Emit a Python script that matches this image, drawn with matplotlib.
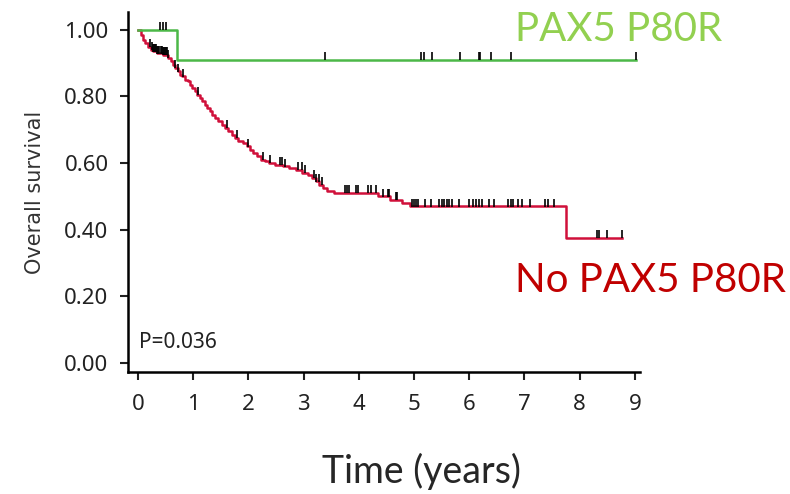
import matplotlib.pyplot as plt
import numpy as np

# Kaplan-Meier style overall survival, two groups

# green group (PAX5 P80R): step times / survival after step
mut_t = [0, 0.70]
mut_s = [1.0, 0.91]
mut_end = 9.02
mut_cens = [0.40, 0.45, 0.51, 3.39, 5.13, 5.18, 5.33, 5.83, 6.18, 6.20, 6.39, 6.76, 9.02]

# red group (No PAX5 P80R)
wt_t = [0, 0.05, 0.09, 0.13, 0.18, 0.23, 0.27, 0.35, 0.45, 0.54, 0.60, 0.64, 0.67,
        0.72, 0.76, 0.80, 0.85, 0.90, 0.94, 0.98, 1.03, 1.07, 1.12, 1.16, 1.21,
        1.25, 1.30, 1.35, 1.40, 1.45, 1.52, 1.58, 1.64, 1.70, 1.76, 1.82, 1.90,
        1.97, 2.03, 2.09, 2.16, 2.22, 2.30, 2.38, 2.48, 2.62, 2.74, 2.86, 2.98,
        3.08, 3.15, 3.22, 3.28, 3.35, 3.42, 3.55, 4.35, 4.57, 4.78, 4.93, 7.75]
wt_s = [1.0, 0.985, 0.97, 0.96, 0.95, 0.94, 0.935, 0.93, 0.925, 0.915, 0.905, 0.895,
        0.885, 0.875, 0.865, 0.86, 0.85, 0.845, 0.835, 0.825, 0.815, 0.805, 0.795,
        0.785, 0.775, 0.765, 0.755, 0.745, 0.735, 0.725, 0.715, 0.705, 0.695, 0.685,
        0.675, 0.665, 0.66, 0.65, 0.64, 0.63, 0.62, 0.61, 0.605, 0.60, 0.595, 0.59,
        0.585, 0.58, 0.57, 0.565, 0.555, 0.545, 0.535, 0.525, 0.515, 0.51, 0.50,
        0.49, 0.48, 0.47, 0.375]
wt_end = 8.77
wt_cens = [0.22, 0.25, 0.27, 0.29, 0.31, 0.33, 0.35, 0.37, 0.39, 0.41, 0.43, 0.45,
           0.47, 0.49, 0.51, 0.53, 0.55, 0.67, 0.72, 0.82, 1.09, 1.61, 1.79, 1.99,
           2.26, 2.39, 2.57, 2.61, 2.66, 2.90, 2.97, 3.03, 3.18, 3.22, 3.27, 3.33,
           3.75, 3.79, 3.83, 3.95, 3.99, 4.17, 4.22, 4.31, 4.43, 4.52, 4.55, 4.67,
           4.70, 4.96, 5.00, 5.04, 5.08, 5.20, 5.31, 5.46, 5.50, 5.54, 5.59, 5.64,
           5.68, 5.82, 6.00, 6.06, 6.13, 6.18, 6.23, 6.36, 6.44, 6.71, 6.75, 6.80,
           6.89, 6.95, 7.10, 7.37, 7.43, 7.54, 8.31, 8.35, 8.49, 8.76]

xticks = list(range(10))
yticks = [0.0, 0.2, 0.4, 0.6, 0.8, 1.0]


def surv_at(times, surv, t):
    idx = np.searchsorted(times, t, side='right') - 1
    return np.array(surv)[idx]


fig = plt.figure(figsize=(7.9, 4.94), dpi=100)
ax = fig.add_axes([0.162, 0.247, 0.648, 0.729])

ax.step(wt_t + [wt_end], wt_s + [wt_s[-1]], where='post', color='#d0103a', lw=1.8)
ax.step(mut_t + [mut_end], mut_s + [mut_s[-1]], where='post', color='#4cb848', lw=1.8)

# censor marks sit on top of the curve
for times, surv, cens in [(wt_t, wt_s, wt_cens), (mut_t, mut_s, mut_cens)]:
    cy = surv_at(times, surv, np.array(cens)) + 0.011
    ax.plot(cens, cy, linestyle='none', marker='|', color='black', ms=6, mew=1.2)

ax.set_xlim(-0.18, 9.09)
ax.set_ylim(-0.027, 1.054)
ax.set_xticks(xticks)
ax.set_yticks(yticks)
ax.set_yticklabels(['%.2f' % v for v in yticks])
for side in ['top', 'right']:
    ax.spines[side].set_visible(False)
for side in ['left', 'bottom']:
    ax.spines[side].set_linewidth(1.8)
ax.tick_params(direction='out', length=6, width=1.5, labelsize=16, colors='#222222')
ax.tick_params(axis='x', pad=10)
ax.tick_params(axis='y', pad=8)
for lab in ax.get_xticklabels() + ax.get_yticklabels():
    lab.set_family('Noto Sans')

ax.set_ylabel('Overall survival', family='Liberation Sans Narrow', fontsize=15,
              color='#333333', labelpad=14)

ax.text(0.02, 0.045, 'P=0.036', family='Noto Sans', fontsize=15, color='#222222')

fig.text(0.652, 0.94, 'PAX5 P80R', family='Lato', fontsize=29, color='#92d050', va='center')
fig.text(0.652, 0.433, 'No PAX5 P80R', family='Lato', fontsize=29, color='#c00000', va='center')
fig.text(0.534, 0.008, 'Time (years)', family='Lato', fontsize=27, color='#262626',
         ha='center', va='bottom')

fig.savefig('out.png', dpi=100)
